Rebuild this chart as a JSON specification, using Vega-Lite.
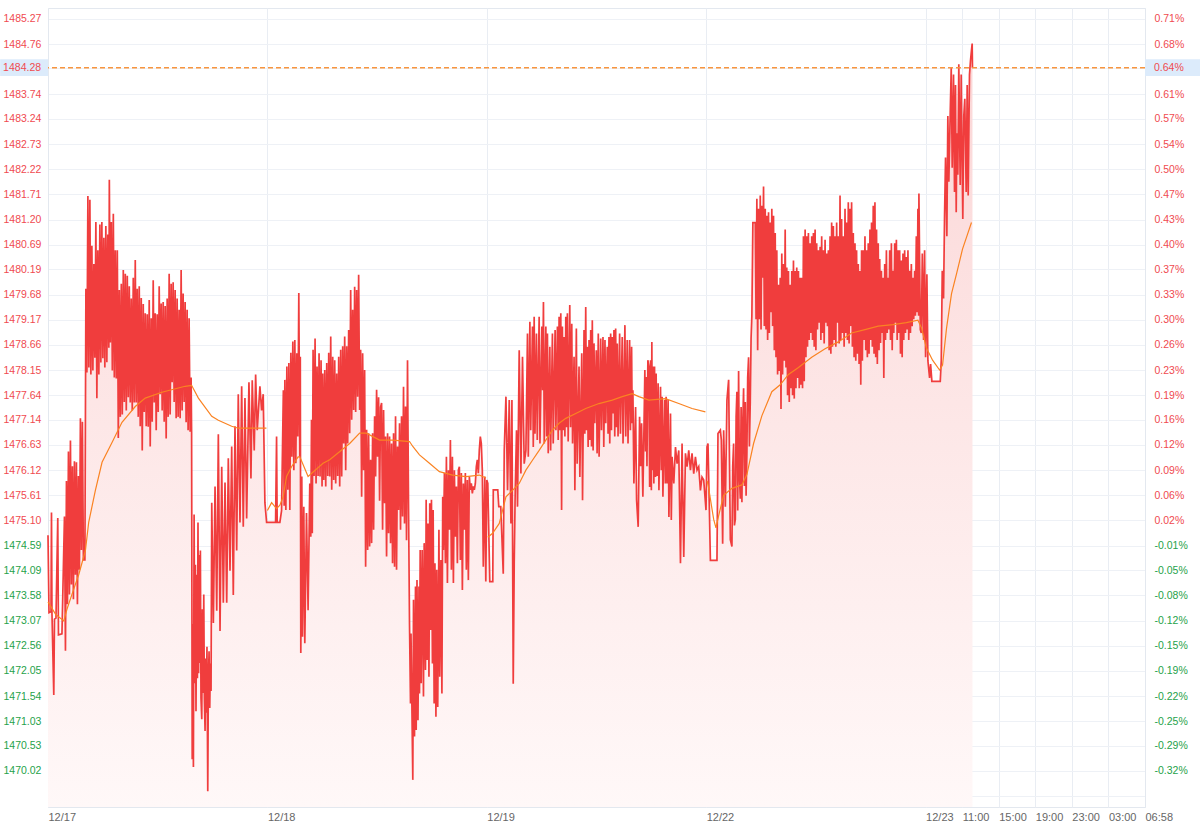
{
"$schema":"https://vega.github.io/schema/vega-lite/v6.json",
"autosize":"none",
"width":1097,"height":799,
"padding":{"left":48,"top":8,"right":55,"bottom":25},
"background":"#ffffff",
"config":{"view":{"stroke":"#e3e8ef"},"axis":{"labelFont":"Liberation Sans","titleFont":"Liberation Sans"}},
"datasets":{
"price":[
{"i":0,"p":1474.8},{"i":1,"p":1473.23},{"i":3,"p":1473.25},{"i":3.5,"p":1475.26},{"i":4,"p":1473.2},{"i":5.8,"p":1471.56},{"i":6.5,"p":1473.1},{"i":8,"p":1473.12},{"i":9.8,"p":1475.15},{"i":10.5,"p":1472.78},{"i":14,"p":1472.8},{"i":16.5,"p":1475.18},{"i":17.5,"p":1472.46},{"i":18.5,"p":1475.9},{"i":19.5,"p":1473.4},{"i":20.5,"p":1476.5},{"i":21.5,"p":1473.6},{"i":22.5,"p":1476.72},{"i":23.5,"p":1473.8},{"i":24.5,"p":1476.2},{"i":25.5,"p":1473.5},{"i":26.5,"p":1476.3},{"i":27.5,"p":1474.0},{"i":28.5,"p":1476.28},{"i":29.5,"p":1473.4},{"i":30.5,"p":1476.0},{"i":31.5,"p":1474.1},{"i":32.5,"p":1477.17},{"i":33.5,"p":1474.5},{"i":34.5,"p":1477.1},{"i":35.5,"p":1474.3},{"i":37,"p":1474.3},{"i":38,"p":1479.8},{"i":39,"p":1478.1},{"i":40,"p":1481.68},{"i":41,"p":1478.2},{"i":42,"p":1481.6},{"i":43,"p":1478.06},{"i":44,"p":1480.67},{"i":45,"p":1478.14},{"i":46,"p":1480.3},{"i":47,"p":1478.4},{"i":48,"p":1481.15},{"i":49,"p":1477.58},{"i":50,"p":1480.58},{"i":51,"p":1478.06},{"i":52,"p":1481.1},{"i":53,"p":1478.3},{"i":54,"p":1481.15},{"i":55,"p":1478.39},{"i":56,"p":1480.83},{"i":57,"p":1478.2},{"i":58,"p":1481.07},{"i":59,"p":1478.31},{"i":60,"p":1480.9},{"i":61,"p":1478.6},{"i":61.5,"p":1482.01},{"i":62.5,"p":1478.71},{"i":63.5,"p":1481.15},{"i":64.5,"p":1478.14},{"i":65.5,"p":1481.32},{"i":66.5,"p":1478.0},{"i":67.5,"p":1480.58},{"i":68.5,"p":1477.98},{"i":69.5,"p":1480.58},
{"i":70.5,"p":1476.77},{"i":71.5,"p":1479.77},{"i":72.5,"p":1477.2},{"i":73.5,"p":1479.9},{"i":74.5,"p":1477.25},{"i":75.5,"p":1480.18},{"i":76.5,"p":1477.5},{"i":77.5,"p":1480.1},{"i":78.5,"p":1477.33},{"i":79.5,"p":1480.06},{"i":80.5,"p":1477.6},{"i":81.5,"p":1479.85},{"i":82.5,"p":1477.49},{"i":83.5,"p":1479.6},{"i":84.5,"p":1477.33},{"i":85.5,"p":1480.02},{"i":86.5,"p":1477.49},{"i":87.5,"p":1480.38},{"i":88.5,"p":1477.49},{"i":89.5,"p":1479.8},{"i":90.5,"p":1477.2},{"i":91.5,"p":1479.85},{"i":92.5,"p":1477.01},{"i":93.5,"p":1479.61},{"i":94.5,"p":1476.52},{"i":95.5,"p":1479.49},{"i":96.5,"p":1477.3},{"i":97.5,"p":1479.3},{"i":98.5,"p":1477.01},{"i":99.5,"p":1479.28},{"i":100.5,"p":1477.0},{"i":101.5,"p":1479.57},{"i":102.5,"p":1476.6},{"i":103.5,"p":1479.2},{"i":104.5,"p":1477.1},{"i":105.5,"p":1479.97},{"i":106.5,"p":1477.49},{"i":107.5,"p":1479.3},{"i":108.5,"p":1476.93},{"i":109.5,"p":1479.28},{"i":110.5,"p":1477.3},{"i":111.5,"p":1479.85},{"i":112.5,"p":1477.66},{"i":113.5,"p":1479.5},{"i":114.5,"p":1477.33},{"i":115.5,"p":1479.53},{"i":116.5,"p":1477.1},{"i":117.5,"p":1479.45},{"i":118.5,"p":1476.76},{"i":119.5,"p":1479.6},{"i":120.5,"p":1477.2},{"i":121.5,"p":1480.1},{"i":122.5,"p":1477.25},{"i":123.5,"p":1479.9},{"i":124.5,"p":1477.9},{"i":125.5,"p":1479.93},{"i":126.5,"p":1477.5},{"i":127.5,"p":1479.77},{"i":128.5,"p":1477.17},{"i":129.5,"p":1479.6},{"i":130.5,"p":1477.2},{"i":131.5,"p":1479.37},{"i":132.5,"p":1477.17},{"i":133.5,"p":1480.18},{"i":134.5,"p":1477.33},{"i":135.5,"p":1479.7},{"i":136.5,"p":1477.5},{"i":137.5,"p":1479.53},{"i":138.5,"p":1477.09},{"i":139.5,"p":1479.37},{"i":140.5,"p":1476.93},{"i":141.5,"p":1479.2},{"i":142.5,"p":1476.9},{"i":143.5,"p":1478.0},
{"i":144,"p":1476.9},{"i":144.6,"p":1470.26},{"i":145.2,"p":1473.0},{"i":145.8,"p":1470.1},{"i":146.5,"p":1475.22},{"i":147.2,"p":1471.8},{"i":147.8,"p":1474.2},{"i":148.4,"p":1471.23},{"i":149.2,"p":1474.0},{"i":149.8,"p":1471.9},{"i":150.4,"p":1475.06},{"i":151,"p":1472.0},{"i":151.6,"p":1474.4},{"i":152.2,"p":1472.21},{"i":152.8,"p":1474.49},{"i":153.4,"p":1471.5},{"i":154.2,"p":1471.07},{"i":154.8,"p":1473.3},{"i":155.5,"p":1471.6},{"i":156.2,"p":1473.6},{"i":156.8,"p":1471.5},{"i":157.5,"p":1470.83},{"i":158.2,"p":1472.3},{"i":158.8,"p":1471.2},{"i":159.4,"p":1472.54},{"i":160.2,"p":1469.61},{"i":160.8,"p":1471.8},{"i":161.5,"p":1472.45},{"i":162.2,"p":1471.3},{"i":162.8,"p":1472.2},{"i":163.5,"p":1471.64},{"i":164.2,"p":1475.46},{"i":165.8,"p":1473.02},{"i":167.5,"p":1475.79},{"i":169.2,"p":1473.27},{"i":170.8,"p":1476.85},{"i":172.5,"p":1472.86},{"i":174.2,"p":1476.19},{"i":175.8,"p":1473.43},{"i":177.5,"p":1475.87},{"i":179.2,"p":1473.43},{"i":180.8,"p":1476.36},{"i":182.5,"p":1474.08},{"i":184.2,"p":1476.6},{"i":185.8,"p":1473.59},{"i":187.5,"p":1477.01},{"i":189.2,"p":1474.49},{"i":190.8,"p":1477.66},{"i":192.5,"p":1475.06},{"i":194.2,"p":1477.82},{"i":195.8,"p":1474.97},{"i":197.5,"p":1477.58},{"i":199.2,"p":1475.14},{"i":201.5,"p":1477.9},{"i":203.5,"p":1475.95},{"i":204.8,"p":1477.94},{"i":206.8,"p":1476.52},{"i":208.2,"p":1478.06},{"i":209.8,"p":1476.93},{"i":212.5,"p":1477.82},{"i":214.2,"p":1477.33},{"i":215.8,"p":1477.66},{"i":217.5,"p":1475.46},{"i":219.2,"p":1475.06},{"i":220.8,"p":1475.06},{"i":228.2,"p":1475.06},{"i":229.2,"p":1476.8},{"i":229.8,"p":1475.06},{"i":232.5,"p":1475.06},{"i":234.2,"p":1475.3},{"i":236,"p":1477.74},{"i":236.8,"p":1475.4},{"i":237.5,"p":1477.95},{"i":238.5,"p":1475.31},
{"i":239.5,"p":1478.22},{"i":240.5,"p":1475.72},{"i":241.5,"p":1478.29},{"i":242.5,"p":1475.31},{"i":243.5,"p":1478.5},{"i":244.5,"p":1476.39},{"i":245.5,"p":1478.73},{"i":246.5,"p":1476.12},{"i":247.5,"p":1478.76},{"i":248.5,"p":1476.26},{"i":249.5,"p":1478.49},{"i":250.5,"p":1476.8},{"i":251.5,"p":1479.71},{"i":252.5,"p":1476.39},{"i":253,"p":1478.42},{"i":253.5,"p":1472.41},{"i":254.5,"p":1475.99},{"i":255.2,"p":1472.74},{"i":256.5,"p":1475.38},{"i":257.5,"p":1472.61},{"i":259.2,"p":1475.25},{"i":260.8,"p":1473.28},{"i":262.5,"p":1475.85},{"i":263.5,"p":1474.77},{"i":264.2,"p":1477.14},{"i":265,"p":1474.84},{"i":265.8,"p":1478.56},{"i":266.8,"p":1476.0},{"i":267.8,"p":1478.79},{"i":268.8,"p":1475.85},{"i":269.8,"p":1478.22},{"i":270.8,"p":1476.0},{"i":271.8,"p":1478.49},{"i":272.8,"p":1475.99},{"i":273.8,"p":1478.35},{"i":274.8,"p":1475.79},{"i":275.5,"p":1478.08},{"i":276.5,"p":1475.92},{"i":277.5,"p":1478.15},{"i":278.5,"p":1475.79},{"i":279.5,"p":1478.29},{"i":280.5,"p":1476.0},{"i":281.5,"p":1478.5},{"i":282.5,"p":1475.99},{"i":283.5,"p":1478.83},{"i":284.5,"p":1475.72},{"i":285.5,"p":1478.42},{"i":286.5,"p":1475.92},{"i":287.5,"p":1478.35},{"i":288.5,"p":1475.85},{"i":289.5,"p":1478.08},{"i":290.5,"p":1476.0},{"i":291.5,"p":1478.42},{"i":292.5,"p":1475.79},{"i":293.5,"p":1478.56},{"i":294.5,"p":1475.99},{"i":295.5,"p":1478.63},{"i":296.5,"p":1476.66},{"i":297.5,"p":1478.83},{"i":298.5,"p":1476.12},{"i":299.5,"p":1478.63},{"i":300.5,"p":1476.66},{"i":301.5,"p":1478.96},{"i":302.5,"p":1476.87},{"i":303.5,"p":1479.77},{"i":304.5,"p":1477.14},{"i":305.5,"p":1479.37},{"i":306.5,"p":1477.34},{"i":307.5,"p":1479.84},{"i":308.5,"p":1477.3},{"i":309.5,"p":1479.77},{"i":310.5,"p":1477.61},{"i":311.5,"p":1480.08},{"i":312.5,"p":1477.34},{"i":313.5,"p":1478.56},{"i":314.5,"p":1475.58},{"i":315.5,"p":1478.49},{"i":316.5,"p":1476.12},{"i":317.5,"p":1478.15},{"i":318.5,"p":1474.16},{"i":319.5,"p":1476.94},{"i":320.5,"p":1474.5},{"i":321.5,"p":1476.87},{"i":322.5,"p":1474.57},{"i":323.5,"p":1476.33},{"i":324.5,"p":1474.64},{"i":325.5,"p":1476.87},{"i":326.5,"p":1474.91},{"i":327.5,"p":1477.21},{"i":328.5,"p":1475.99},{"i":329.5,"p":1477.75},{"i":330.5,"p":1476.39},{"i":331.5,"p":1477.6},{"i":332.5,"p":1475.5},{"i":333.5,"p":1477.4},
{"i":334.5,"p":1477.48},{"i":335.5,"p":1474.91},{"i":336.5,"p":1477.34},{"i":337.5,"p":1475.45},{"i":338.5,"p":1476.8},{"i":339.5,"p":1474.37},{"i":340.5,"p":1476.87},{"i":341.5,"p":1474.84},{"i":342.5,"p":1476.8},{"i":343.5,"p":1474.64},{"i":344.5,"p":1476.66},{"i":345.5,"p":1474.23},{"i":346.5,"p":1476.87},{"i":347.5,"p":1474.16},{"i":348.5,"p":1477.21},{"i":349.5,"p":1474.1},{"i":350.5,"p":1476.6},{"i":351.5,"p":1475.31},{"i":352.5,"p":1477.07},{"i":353.5,"p":1474.91},{"i":354.5,"p":1477.21},{"i":355.5,"p":1475.18},{"i":356.5,"p":1477.81},{"i":357.5,"p":1475.04},{"i":358.5,"p":1477.41},{"i":359.5,"p":1474.7},{"i":360.5,"p":1478.35},{"i":361.5,"p":1475.45},{"i":362.5,"p":1473.0},{"i":363.5,"p":1471.39},{"i":364,"p":1472.81},{"i":365.8,"p":1469.84},{"i":366.5,"p":1473.49},{"i":367.5,"p":1470.72},{"i":368.5,"p":1473.76},{"i":369.2,"p":1470.85},{"i":370,"p":1473.89},{"i":371,"p":1471.05},{"i":372,"p":1473.76},{"i":372.5,"p":1471.59},{"i":373.2,"p":1474.5},{"i":374.2,"p":1471.8},{"i":375.2,"p":1474.5},{"i":376.5,"p":1471.53},{"i":377.2,"p":1474.64},{"i":378.5,"p":1472.07},{"i":379.2,"p":1475.52},{"i":380.2,"p":1472.27},{"i":381,"p":1475.04},{"i":382,"p":1471.93},{"i":382.8,"p":1475.45},{"i":383.8,"p":1472.88},{"i":384.5,"p":1475.52},{"i":385.5,"p":1472.2},{"i":386.2,"p":1475.31},{"i":387.2,"p":1471.39},{"i":388,"p":1474.23},{"i":389,"p":1471.12},{"i":389.8,"p":1474.1},{"i":390.8,"p":1471.32},{"i":392,"p":1474.91},{"i":392.8,"p":1471.93},{"i":394,"p":1474.3},{"i":395,"p":1471.59},{"i":395.8,"p":1475.58},{"i":396.5,"p":1474.5},{"i":397.5,"p":1476.06},{"i":398.5,"p":1474.23},{"i":399.5,"p":1476.39},{"i":400.5,"p":1473.83},{"i":401.5,"p":1476.12},{"i":402.5,"p":1474.91},{"i":403.5,"p":1476.73},{"i":404.5,"p":1474.1},{"i":405.5,"p":1476.39},{"i":406.5,"p":1473.83},{"i":407.5,"p":1476.12},{"i":408.5,"p":1474.77},{"i":409.5,"p":1475.79},{"i":410.5,"p":1474.23},{"i":411.5,"p":1476.12},{"i":412.5,"p":1476.19},{"i":413.5,"p":1474.3},{"i":414.5,"p":1476.06},{"i":415.5,"p":1473.69},{"i":416.5,"p":1475.85},{"i":417.5,"p":1474.91},{"i":418.5,"p":1476.06},{"i":419.5,"p":1474.1},{"i":420.5,"p":1475.92},{"i":421.5,"p":1473.89},{"i":422.5,"p":1475.99},{"i":423.5,"p":1475.72},{"i":424.5,"p":1475.85},{"i":425.5,"p":1475.65},{"i":426.5,"p":1475.79},{"i":427.5,"p":1475.72},{"i":428.5,"p":1475.85},{"i":429.5,"p":1476.19},{"i":430.5,"p":1476.33},{"i":431.5,"p":1476.06},{"i":432.5,"p":1476.53},{"i":433.5,"p":1476.8},{"i":434.5,"p":1476.66},{"i":435.5,"p":1476.12},{"i":436.5,"p":1474.16},{"i":438,"p":1475.99},{"i":439,"p":1473.86},{"i":440,"p":1475.92},{"i":441,"p":1475.85},{"i":443,"p":1473.86},{"i":446,"p":1473.86},{"i":446.5,"p":1475.72},{"i":451,"p":1475.72},{"i":452,"p":1475.38},{"i":454,"p":1475.38},{"i":456.5,"p":1474.02},{"i":457.5,"p":1476.53},{"i":459.2,"p":1477.61},{"i":460.8,"p":1475.71},{"i":462.5,"p":1477.54},{"i":464.2,"p":1475.04},{"i":465.2,"p":1477.54},{"i":466.5,"p":1471.79},{"i":467.5,"p":1474.23},{"i":468.5,"p":1475.71},{"i":469.8,"p":1476.93},{"i":470.8,"p":1475.38},{"i":472.5,"p":1478.55},{"i":474.2,"p":1476.05},{"i":475.8,"p":1478.42},{"i":477.5,"p":1476.25},{"i":479.2,"p":1476.52},
{"i":480.8,"p":1478.89},{"i":481.6,"p":1476.39},{"i":483.2,"p":1479.13},{"i":484,"p":1476.93},{"i":485.8,"p":1479.03},{"i":486.6,"p":1476.59},{"i":487.5,"p":1479.23},{"i":488.3,"p":1476.86},{"i":489.8,"p":1478.89},{"i":490.6,"p":1476.73},{"i":492.5,"p":1479.23},{"i":493.3,"p":1476.66},{"i":495.2,"p":1479.03},{"i":496,"p":1477.74},{"i":496.8,"p":1479.53},{"i":497.6,"p":1476.66},{"i":499.2,"p":1479.03},{"i":500,"p":1476.8},{"i":500.8,"p":1478.89},{"i":501.6,"p":1476.46},{"i":503.2,"p":1478.62},{"i":504,"p":1476.52},{"i":505.8,"p":1478.89},{"i":506.6,"p":1476.66},{"i":508.5,"p":1478.96},{"i":509.3,"p":1476.93},{"i":510.8,"p":1479.03},{"i":511.6,"p":1476.73},{"i":512.5,"p":1479.23},{"i":513.3,"p":1476.93},{"i":514.2,"p":1479.3},{"i":515,"p":1475.31},{"i":515.8,"p":1479.03},{"i":516.6,"p":1476.93},{"i":517.5,"p":1478.82},{"i":518.3,"p":1476.8},{"i":519.2,"p":1479.23},{"i":520,"p":1476.99},{"i":520.8,"p":1479.3},{"i":521.6,"p":1476.7},{"i":523.2,"p":1479.47},{"i":524,"p":1476.99},{"i":525.2,"p":1479.09},{"i":526,"p":1476.66},{"i":527.5,"p":1478.42},{"i":528.3,"p":1475.71},{"i":529.8,"p":1478.99},{"i":530.6,"p":1476.25},{"i":532.5,"p":1478.22},{"i":533.3,"p":1475.98},{"i":535.2,"p":1478.49},{"i":536,"p":1475.51},{"i":537.5,"p":1478.96},{"i":538.3,"p":1476.86},{"i":539.2,"p":1479.43},{"i":540,"p":1476.93},{"i":540.8,"p":1478.62},{"i":541.6,"p":1476.59},{"i":542.5,"p":1478.76},{"i":543.3,"p":1476.73},{"i":544.2,"p":1478.96},{"i":545,"p":1476.6},{"i":545.8,"p":1479.16},{"i":546.6,"p":1476.52},{"i":547.5,"p":1478.69},{"i":548.3,"p":1477.07},{"i":549.8,"p":1478.55},{"i":550.6,"p":1476.46},{"i":551.8,"p":1478.89},{"i":552.6,"p":1476.39},{"i":554.2,"p":1478.79},{"i":555,"p":1476.93},{"i":556.5,"p":1478.82},{"i":557.3,"p":1476.59},{"i":558.5,"p":1478.76},{"i":559.3,"p":1477.07},{"i":560.8,"p":1478.62},{"i":561.6,"p":1476.86},{"i":562.5,"p":1478.82},{"i":563.3,"p":1476.66},{"i":564.2,"p":1478.89},{"i":565,"p":1476.93},{"i":565.8,"p":1478.82},{"i":566.6,"p":1477.27},{"i":567.5,"p":1478.96},{"i":568.3,"p":1476.8},{"i":569.2,"p":1478.99},{"i":570,"p":1476.99},{"i":570.8,"p":1478.69},{"i":571.6,"p":1476.8},{"i":573.2,"p":1478.89},{"i":574,"p":1476.86},{"i":575.8,"p":1478.82},{"i":576.6,"p":1476.66},{"i":578.5,"p":1479.06},{"i":579.3,"p":1476.8},{"i":580.8,"p":1478.76},{"i":581.6,"p":1476.66},{"i":583.2,"p":1478.76},{"i":584,"p":1476.93},{"i":585.2,"p":1478.62},{"i":585.8,"p":1477.07},{"i":586.5,"p":1477.74},{"i":587.5,"p":1475.85},{"i":589.2,"p":1477.4},{"i":590.2,"p":1475.51},{"i":591.8,"p":1474.97},{"i":593.2,"p":1477.2},{"i":594.2,"p":1476.2},{"i":595.2,"p":1477.07},{"i":596.5,"p":1475.58},{"i":598.5,"p":1478.15},{"i":599.2,"p":1476.5},{"i":599.8,"p":1478.01},{"i":600.6,"p":1476.2},{"i":601.5,"p":1478.35},{"i":602.5,"p":1478.22},{"i":603.3,"p":1475.78},{"i":604.2,"p":1478.35},{"i":605,"p":1475.71},{"i":605.5,"p":1478.72},{"i":606,"p":1476.12},{"i":606.5,"p":1478.22},{"i":607.5,"p":1475.85},{"i":608.2,"p":1478.22},{"i":609.2,"p":1475.98},{"i":609.8,"p":1478.08},{"i":610.8,"p":1476.0},{"i":611.8,"p":1477.88},{"i":612.6,"p":1475.71},{"i":614.2,"p":1477.81},{"i":615,"p":1476.12},{"i":615.8,"p":1477.61},{"i":616.6,"p":1475.58},{"i":618.2,"p":1477.54},{"i":619,"p":1475.85},{"i":619.8,"p":1477.61},{"i":620.8,"p":1475.85},{"i":621.8,"p":1477.54},{"i":622.6,"p":1475.17},{"i":624.2,"p":1477.27},{"i":625,"p":1475.11},{"i":625.8,"p":1476.39},{"i":627.5,"p":1475.85},{"i":629.2,"p":1476.59},{"i":630.8,"p":1476.25},{"i":632.5,"p":1476.52},{"i":634.2,"p":1474.23},{"i":635.8,"p":1476.66},{"i":637.5,"p":1474.36},{"i":639.2,"p":1476.46},{"i":640.8,"p":1476.19},{"i":642.5,"p":1476.52},{"i":644.2,"p":1476.12},{"i":645.8,"p":1476.46},{"i":647.5,"p":1476.05},{"i":649.2,"p":1476.39},{"i":650.8,"p":1476.12},{"i":652.5,"p":1476.19},{"i":654.2,"p":1475.71},{"i":655.8,"p":1475.98},{"i":657.5,"p":1475.92},{"i":659.8,"p":1475.31},
{"i":660.8,"p":1476.59},{"i":661.8,"p":1476.66},{"i":663.2,"p":1475.31},{"i":664.2,"p":1474.29},{"i":670.8,"p":1474.29},{"i":671.5,"p":1475.98},{"i":671.8,"p":1476.86},{"i":674.2,"p":1476.93},{"i":675.2,"p":1476.73},{"i":676.5,"p":1474.63},{"i":677.5,"p":1476.93},{"i":679.2,"p":1475.38},{"i":680.8,"p":1477.54},{"i":682.5,"p":1477.95},{"i":684.2,"p":1474.71},{"i":685.8,"p":1474.57},{"i":686.6,"p":1476.2},{"i":687.5,"p":1476.66},{"i":688.3,"p":1475.0},{"i":689.2,"p":1475.12},{"i":690,"p":1477.2},{"i":690.8,"p":1477.71},{"i":691.6,"p":1475.3},{"i":692.5,"p":1478.13},{"i":693.3,"p":1476.0},{"i":694.2,"p":1475.54},{"i":695,"p":1477.4},{"i":695.8,"p":1475.47},{"i":696.6,"p":1477.0},{"i":697.5,"p":1477.78},{"i":698.3,"p":1475.8},{"i":699.2,"p":1477.5},{"i":700,"p":1475.6},{"i":700.8,"p":1476.45},{"i":701.6,"p":1478.0},{"i":702.5,"p":1478.41},{"i":703.3,"p":1476.6},{"i":704.2,"p":1477.5},{"i":705,"p":1478.8},{"i":705.8,"p":1479.25},{"i":706.8,"p":1481.14},
{"i":709.2,"p":1481.14},{"i":710,"p":1479.18},{"i":710.8,"p":1481.62},{"i":711.6,"p":1478.55},{"i":712.5,"p":1481.42},{"i":713.3,"p":1479.18},{"i":714.2,"p":1481.69},{"i":715,"p":1478.97},{"i":715.8,"p":1481.48},{"i":716.6,"p":1480.02},{"i":717.5,"p":1481.87},{"i":718.3,"p":1479.04},{"i":719.2,"p":1481.42},{"i":720,"p":1478.97},{"i":720.8,"p":1481.28},{"i":721.6,"p":1478.76},{"i":722.5,"p":1481.35},{"i":723.3,"p":1478.9},{"i":724.2,"p":1481.14},{"i":725,"p":1479.32},{"i":725.8,"p":1481.42},{"i":726.6,"p":1479.04},{"i":727.5,"p":1481.28},{"i":728.3,"p":1478.55},{"i":729.2,"p":1480.93},{"i":730,"p":1478.41},{"i":730.8,"p":1480.58},{"i":731.6,"p":1478.06},{"i":732.5,"p":1479.88},{"i":733.3,"p":1478.13},{"i":734.2,"p":1480.02},{"i":735,"p":1477.36},{"i":735.8,"p":1480.51},{"i":736.6,"p":1478.06},{"i":737.5,"p":1480.3},{"i":738.3,"p":1478.34},{"i":739.2,"p":1481.0},{"i":740,"p":1478.2},{"i":740.8,"p":1480.23},{"i":741.6,"p":1477.64},{"i":742.5,"p":1480.16},{"i":743.3,"p":1477.5},{"i":744.2,"p":1479.88},{"i":745,"p":1477.78},{"i":745.8,"p":1480.16},{"i":746.6,"p":1477.64},{"i":747.5,"p":1480.37},{"i":748.3,"p":1477.57},{"i":749.2,"p":1480.16},{"i":750,"p":1477.78},{"i":750.8,"p":1480.23},{"i":751.6,"p":1477.99},{"i":752.5,"p":1480.16},{"i":753.3,"p":1477.78},{"i":754.2,"p":1480.02},{"i":755,"p":1477.85},{"i":755.8,"p":1480.02},{"i":756.6,"p":1477.78},{"i":757.5,"p":1480.86},{"i":758.3,"p":1477.92},{"i":759.2,"p":1481.0},{"i":760,"p":1478.41},{"i":760.8,"p":1480.86},{"i":761.6,"p":1478.62},{"i":762.5,"p":1480.93},{"i":763.3,"p":1478.76},{"i":764.2,"p":1480.72},{"i":765,"p":1478.9},{"i":765.8,"p":1480.86},{"i":766.6,"p":1478.76},{"i":767.5,"p":1480.93},{"i":768.3,"p":1478.62},{"i":769.2,"p":1481.0},{"i":770,"p":1478.55},{"i":770.8,"p":1480.72},{"i":771.6,"p":1478.97},{"i":772.5,"p":1480.58},{"i":773.3,"p":1479.11},{"i":774.2,"p":1480.65},{"i":775,"p":1478.76},{"i":775.8,"p":1480.86},{"i":776.6,"p":1478.9},{"i":777.5,"p":1480.58},{"i":778.3,"p":1478.69},{"i":779.2,"p":1480.79},{"i":780,"p":1479.11},{"i":780.8,"p":1480.51},{"i":781.6,"p":1479.04},{"i":782.5,"p":1480.58},{"i":783.3,"p":1478.55},{"i":784.2,"p":1480.86},{"i":785,"p":1478.48},{"i":785.8,"p":1481.14},{"i":786.6,"p":1478.62},{"i":787.5,"p":1481.07},{"i":788.3,"p":1478.76},{"i":789.2,"p":1480.86},{"i":790,"p":1478.62},{"i":790.8,"p":1481.14},{"i":791.6,"p":1479.11},{"i":792.5,"p":1480.86},{"i":793.3,"p":1478.69},{"i":794.2,"p":1481.69},{"i":795,"p":1478.76},{"i":795.8,"p":1481.21},{"i":796.6,"p":1478.9},{"i":797.5,"p":1480.86},{"i":798.3,"p":1478.62},{"i":799.2,"p":1481.42},{"i":800,"p":1478.9},{"i":800.8,"p":1481.14},{"i":801.6,"p":1478.76},{"i":802.5,"p":1481.55},{"i":803.3,"p":1478.69},{"i":804.2,"p":1481.42},{"i":805,"p":1479.04},{"i":805.8,"p":1481.55},{"i":806.6,"p":1478.62},{"i":807.5,"p":1480.93},{"i":808.3,"p":1478.41},{"i":809.2,"p":1480.72},{"i":810,"p":1478.34},{"i":810.8,"p":1480.58},{"i":811.6,"p":1478.48},{"i":812.5,"p":1480.3},{"i":813.3,"p":1478.27},{"i":814.2,"p":1480.16},{"i":815,"p":1477.85},{"i":815.8,"p":1480.58},{"i":816.6,"p":1478.34},{"i":817.5,"p":1480.58},{"i":818.3,"p":1478.76},{"i":819.2,"p":1480.86},{"i":820,"p":1478.55},{"i":820.8,"p":1480.58},{"i":821.6,"p":1478.41},{"i":822.5,"p":1480.72},{"i":823.3,"p":1478.48},{"i":824.2,"p":1481.0},{"i":825,"p":1478.76},{"i":825.8,"p":1481.14},{"i":826.6,"p":1478.62},{"i":827.5,"p":1481.48},{"i":828.3,"p":1478.48},{"i":829.2,"p":1481.55},{"i":830,"p":1478.41},{"i":830.8,"p":1481.0},{"i":831.6,"p":1478.27},{"i":832.5,"p":1480.72},{"i":833.3,"p":1478.55},{"i":834,"p":1480.4},{"i":834.8,"p":1478.7},{"i":835.7,"p":1480.16},{"i":836.5,"p":1478.9},{"i":837.3,"p":1480.02},{"i":838.1,"p":1477.99},{"i":839,"p":1480.3},{"i":839.8,"p":1478.76},{"i":840.7,"p":1480.58},{"i":841.5,"p":1478.9},{"i":842.3,"p":1480.02},{"i":843.1,"p":1478.97},{"i":844,"p":1480.58},{"i":844.8,"p":1478.76},{"i":845.7,"p":1480.72},{"i":846.5,"p":1478.55},{"i":847.3,"p":1480.16},{"i":848.1,"p":1478.9},{"i":849,"p":1480.72},{"i":849.8,"p":1479.11},{"i":850.7,"p":1480.79},{"i":851.5,"p":1478.76},{"i":852.3,"p":1480.58},{"i":853.1,"p":1478.9},{"i":854,"p":1480.58},{"i":854.8,"p":1478.48},{"i":855.7,"p":1480.37},{"i":856.5,"p":1478.41},{"i":857.3,"p":1480.51},{"i":858.1,"p":1478.76},{"i":859,"p":1480.58},{"i":859.8,"p":1478.9},{"i":860.7,"p":1480.44},{"i":861.5,"p":1478.97},{"i":862.3,"p":1480.58},{"i":863.1,"p":1478.76},{"i":864,"p":1480.16},{"i":864.8,"p":1478.9},{"i":865.7,"p":1480.3},{"i":866.5,"p":1479.04},{"i":867.3,"p":1480.02},{"i":868.1,"p":1479.18},{"i":869,"p":1480.16},{"i":869.8,"p":1479.25},{"i":870.7,"p":1480.86},{"i":871.5,"p":1479.32},{"i":872.3,"p":1481.42},{"i":873,"p":1479.25},{"i":873.3,"p":1481.73},{"i":874.7,"p":1478.97},{"i":875.7,"p":1478.9},{"i":876.7,"p":1480.51},{"i":878,"p":1478.76},{"i":879,"p":1480.58},{"i":880,"p":1478.41},{"i":881.3,"p":1480.09},{"i":882.3,"p":1478.34},{"i":884,"p":1477.99},{"i":885,"p":1478.27},{"i":886.3,"p":1477.92},{"i":894.7,"p":1477.92},{"i":895.7,"p":1478.34},{"i":896.7,"p":1480.16},{"i":898,"p":1479.6},{"i":899,"p":1481.28},{"i":900,"p":1482.46},{"i":901.3,"p":1480.86},{"i":902.3,"p":1483.3},{"i":903.3,"p":1481.97},{"i":904.7,"p":1483.37},{"i":905.7,"p":1484.28},{"i":906.7,"p":1482.25},{"i":908,"p":1484.14},{"i":909,"p":1481.76},{"i":910,"p":1483.93},{"i":910.7,"p":1481.35},{"i":911.3,"p":1482.95},{"i":912.3,"p":1482.11},{"i":913.3,"p":1484.35},{"i":914.7,"p":1481.9},{"i":915.7,"p":1484.14},{"i":917.3,"p":1481.21},{"i":918.3,"p":1483.3},{"i":919.3,"p":1483.65},{"i":920.7,"p":1481.76},{"i":921.7,"p":1483.93},{"i":922.7,"p":1481.69},{"i":924,"p":1484.14},{"i":925,"p":1484.42},{"i":926,"p":1484.63},{"i":926.7,"p":1484.77},{"i":927,"p":1484.28}
],
"ma":[
{"d":1,"i":0,"v":1473.45},{"d":1,"i":7.5,"v":1473.2},{"d":1,"i":15.8,"v":1473.06},{"d":1,"i":19,"v":1473.3},{"d":1,"i":24,"v":1473.6},{"d":1,"i":30.8,"v":1474.0},{"d":1,"i":37.5,"v":1474.49},{"d":1,"i":40.8,"v":1475.06},{"d":1,"i":47.5,"v":1475.71},{"d":1,"i":54.2,"v":1476.28},{"d":1,"i":64.2,"v":1476.68},{"d":1,"i":74.2,"v":1477.09},{"d":1,"i":87.5,"v":1477.41},{"d":1,"i":97.5,"v":1477.58},{"d":1,"i":114.2,"v":1477.7},{"d":1,"i":137.5,"v":1477.82},{"d":1,"i":144,"v":1477.84},{"d":1,"i":150.8,"v":1477.58},{"d":1,"i":164.2,"v":1477.21},{"d":1,"i":170.8,"v":1477.13},{"d":1,"i":184.2,"v":1477.01},{"d":1,"i":190.8,"v":1476.97},{"d":1,"i":219,"v":1476.97},
{"d":2,"i":220,"v":1475.3},{"d":2,"i":224.2,"v":1475.46},{"d":2,"i":229.2,"v":1475.34},{"d":2,"i":232.5,"v":1475.41},{"d":2,"i":235.8,"v":1475.58},{"d":2,"i":239.2,"v":1475.99},{"d":2,"i":244.2,"v":1476.19},{"d":2,"i":250.8,"v":1476.39},{"d":2,"i":252.5,"v":1476.39},{"d":2,"i":260.8,"v":1475.99},{"d":2,"i":275.8,"v":1476.26},{"d":2,"i":282.5,"v":1476.33},{"d":2,"i":302.5,"v":1476.66},{"d":2,"i":312.5,"v":1476.87},{"d":2,"i":319.2,"v":1476.87},{"d":2,"i":325.8,"v":1476.8},{"d":2,"i":332.5,"v":1476.73},{"d":2,"i":345.8,"v":1476.73},{"d":2,"i":362.5,"v":1476.7},{"d":2,"i":365.8,"v":1476.6},{"d":2,"i":372.5,"v":1476.43},{"d":2,"i":382.5,"v":1476.26},{"d":2,"i":392.5,"v":1476.09},{"d":2,"i":405.8,"v":1476.02},{"d":2,"i":419.2,"v":1475.99},{"d":2,"i":432.5,"v":1476.02},{"d":2,"i":439.2,"v":1475.96},
{"d":3,"i":441,"v":1474.76},{"d":3,"i":445.8,"v":1474.84},{"d":3,"i":452.5,"v":1475.04},{"d":3,"i":459.2,"v":1475.58},{"d":3,"i":465.8,"v":1475.71},{"d":3,"i":472.5,"v":1475.85},{"d":3,"i":479.2,"v":1476.12},{"d":3,"i":485.8,"v":1476.32},{"d":3,"i":492.5,"v":1476.52},{"d":3,"i":499.2,"v":1476.73},{"d":3,"i":505.8,"v":1476.93},{"d":3,"i":512.5,"v":1477.07},{"d":3,"i":519.2,"v":1477.17},{"d":3,"i":529.2,"v":1477.27},{"d":3,"i":539.2,"v":1477.37},{"d":3,"i":552.5,"v":1477.47},{"d":3,"i":565.8,"v":1477.54},{"d":3,"i":575.8,"v":1477.61},{"d":3,"i":585.8,"v":1477.67},{"d":3,"i":592.5,"v":1477.61},{"d":3,"i":602.5,"v":1477.54},{"d":3,"i":619.2,"v":1477.57},{"d":3,"i":632.5,"v":1477.47},{"d":3,"i":645.8,"v":1477.37},{"d":3,"i":659.2,"v":1477.3},
{"d":4,"i":661,"v":1475.9},{"d":4,"i":662.5,"v":1475.75},{"d":4,"i":667.5,"v":1475.12},{"d":4,"i":669.8,"v":1474.95},{"d":4,"i":672.5,"v":1475.2},{"d":4,"i":677.5,"v":1475.61},{"d":4,"i":685.8,"v":1475.75},{"d":4,"i":695.8,"v":1475.82},{"d":4,"i":700.8,"v":1476.03},{"d":4,"i":707.5,"v":1476.66},{"d":4,"i":715.8,"v":1477.22},{"d":4,"i":725.8,"v":1477.71},{"d":4,"i":734.2,"v":1477.85},{"d":4,"i":742.5,"v":1478.06},{"d":4,"i":752.5,"v":1478.2},{"d":4,"i":765.8,"v":1478.41},{"d":4,"i":779.2,"v":1478.58},{"d":4,"i":792.5,"v":1478.72},{"d":4,"i":805.8,"v":1478.9},{"d":4,"i":819.2,"v":1478.97},{"d":4,"i":832.5,"v":1479.04},{"d":4,"i":847.3,"v":1479.07},{"d":4,"i":860.7,"v":1479.11},{"d":4,"i":872.3,"v":1479.16},{"d":4,"i":876,"v":1479.0},{"d":4,"i":880.7,"v":1478.6},{"d":4,"i":887,"v":1478.35},{"d":4,"i":894,"v":1478.15},{"d":4,"i":897,"v":1478.25},{"d":4,"i":901,"v":1479.0},{"d":4,"i":906,"v":1479.7},{"d":4,"i":911,"v":1480.1},{"d":4,"i":917,"v":1480.6},{"d":4,"i":922,"v":1480.9},{"d":4,"i":926,"v":1481.14}
],
"last":[{"p":1484.28}],
"tag":[{"p":1484.28,"pct":"0.64%","lbl":"1484.28"}]
},
"layer":[
{"data":{"name":"price"},
 "mark":{"type":"area","color":{"gradient":"linear","x1":0,"y1":0,"x2":0,"y2":1,"stops":[{"offset":0,"color":"#fbd6d6"},{"offset":1,"color":"#fff8f8"}]}},
 "encoding":{
  "x":{"field":"i","type":"quantitative","scale":{"domain":[0,1100],"nice":false,"zero":false},
   "axis":{"title":null,"values":[0,220,440,660,880,916.67,953.33,990,1026.67,1063.33,1100],
    "labelExpr":"round(datum.value)==0?'12/17':round(datum.value)==220?'12/18':round(datum.value)==440?'12/19':round(datum.value)==660?'12/22':round(datum.value)==880?'12/23':round(datum.value)==917?'11:00':round(datum.value)==953?'15:00':round(datum.value)==990?'19:00':round(datum.value)==1027?'23:00':round(datum.value)==1063?'03:00':'06:58'",
    "labelAlign":"left","labelBaseline":"top","labelPadding":4,"labelFlush":false,"labelOverlap":false,"labelFontSize":11,"labelColor":"#666666",
    "ticks":false,"tickSize":0,"domain":false,"grid":true,"gridColor":"#e9edf3","gridWidth":1}},
  "y":{"field":"p","type":"quantitative","scale":{"domain":[1469.29,1485.49],"nice":false,"zero":false},
   "axis":{"orient":"left","title":null,
    "values":[1485.27,1484.76,1484.28,1483.74,1483.24,1482.73,1482.22,1481.71,1481.2,1480.69,1480.19,1479.68,1479.17,1478.66,1478.15,1477.64,1477.14,1476.63,1476.12,1475.61,1475.1,1474.59,1474.09,1473.58,1473.07,1472.56,1472.05,1471.54,1471.03,1470.53,1470.02,1469.51],
    "labelExpr":"(datum.value<1469.8 || abs(datum.value-1484.28)<0.001) ? '' : format(datum.value,'.2f')",
    "labelAlign":"left","labelPadding":45,"labelFontSize":10.5,
    "labelColor":{"condition":{"test":"datum.value >= 1474.8","value":"#f04a4f"},"value":"#1fa24a"},
    "ticks":false,"tickSize":0,"domain":true,"domainColor":"#e3e8ef","grid":true,"gridColor":"#eef1f6","gridWidth":1}},
  "y2":{"datum":1469.29}}},
{"data":{"name":"price"},
 "mark":{"type":"line","color":"#f03d3d","strokeWidth":1.7},
 "encoding":{
  "x":{"field":"i","type":"quantitative","scale":{"domain":[0,1100],"nice":false,"zero":false}},
  "y":{"field":"p","type":"quantitative","scale":{"domain":[1469.29,1485.49],"nice":false,"zero":false},"axis":null}}},
{"data":{"name":"ma"},
 "mark":{"type":"line","color":"#fa8322","strokeWidth":1.2},
 "encoding":{
  "x":{"field":"i","type":"quantitative","scale":{"domain":[0,1100],"nice":false,"zero":false}},
  "y":{"field":"v","type":"quantitative","scale":{"domain":[1469.29,1485.49],"nice":false,"zero":false},"axis":null},
  "detail":{"field":"d","type":"nominal"}}},
{"data":{"name":"last"},
 "mark":{"type":"rule","color":"#f7953f","strokeWidth":1.6,"strokeDash":[5,3]},
 "encoding":{
  "y":{"field":"p","type":"quantitative","scale":{"domain":[1469.29,1485.49],"nice":false,"zero":false},
   "axis":{"orient":"right","title":null,
    "values":[1485.27,1484.76,1484.28,1483.74,1483.24,1482.73,1482.22,1481.71,1481.2,1480.69,1480.19,1479.68,1479.17,1478.66,1478.15,1477.64,1477.14,1476.63,1476.12,1475.61,1475.1,1474.59,1474.09,1473.58,1473.07,1472.56,1472.05,1471.54,1471.03,1470.53,1470.02],
    "labelExpr":"['0.71%','0.68%','','0.61%','0.57%','0.54%','0.50%','0.47%','0.43%','0.40%','0.37%','0.33%','0.30%','0.26%','0.23%','0.19%','0.16%','0.12%','0.09%','0.06%','0.02%','-0.01%','-0.05%','-0.08%','-0.12%','-0.15%','-0.19%','-0.22%','-0.25%','-0.29%','-0.32%'][indexof(['1485.27','1484.76','1484.28','1483.74','1483.24','1482.73','1482.22','1481.71','1481.20','1480.69','1480.19','1479.68','1479.17','1478.66','1478.15','1477.64','1477.14','1476.63','1476.12','1475.61','1475.10','1474.59','1474.09','1473.58','1473.07','1472.56','1472.05','1471.54','1471.03','1470.53','1470.02'], format(datum.value,'.2f'))]",
    "labelAlign":"left","labelPadding":9,"labelFontSize":10.5,
    "labelColor":{"condition":{"test":"datum.value >= 1474.8","value":"#f04a4f"},"value":"#1fa24a"},
    "ticks":false,"tickSize":0,"domain":true,"domainColor":"#e3e8ef","grid":false}}}},
{"data":{"name":"tag"},
 "mark":{"type":"rect","color":"#dcebfb"},
 "encoding":{
  "x":{"datum":-48,"type":"quantitative","scale":{"domain":[0,1100],"nice":false,"zero":false}},
  "x2":{"datum":0},
  "y":{"datum":1484.45,"type":"quantitative","scale":{"domain":[1469.29,1485.49],"nice":false,"zero":false},"axis":null},
  "y2":{"datum":1484.11}}},
{"data":{"name":"tag"},
 "mark":{"type":"rect","color":"#dcebfb"},
 "encoding":{
  "x":{"datum":1100,"type":"quantitative","scale":{"domain":[0,1100],"nice":false,"zero":false}},
  "x2":{"datum":1160},
  "y":{"datum":1484.45,"type":"quantitative","scale":{"domain":[1469.29,1485.49],"nice":false,"zero":false},"axis":null},
  "y2":{"datum":1484.11}}},
{"data":{"name":"tag"},
 "mark":{"type":"text","align":"left","baseline":"middle","font":"Liberation Sans","fontSize":10.5,"color":"#f04a4f"},
 "encoding":{
  "x":{"datum":-45,"type":"quantitative","scale":{"domain":[0,1100],"nice":false,"zero":false}},
  "y":{"field":"p","type":"quantitative","scale":{"domain":[1469.29,1485.49],"nice":false,"zero":false},"axis":null},
  "text":{"field":"lbl"}}},
{"data":{"name":"tag"},
 "mark":{"type":"text","align":"left","baseline":"middle","font":"Liberation Sans","fontSize":10.5,"color":"#f04a4f"},
 "encoding":{
  "x":{"datum":1109,"type":"quantitative","scale":{"domain":[0,1100],"nice":false,"zero":false}},
  "y":{"field":"p","type":"quantitative","scale":{"domain":[1469.29,1485.49],"nice":false,"zero":false},"axis":null},
  "text":{"field":"pct"}}}
],
"resolve":{"axis":{"y":"independent"}}
}
